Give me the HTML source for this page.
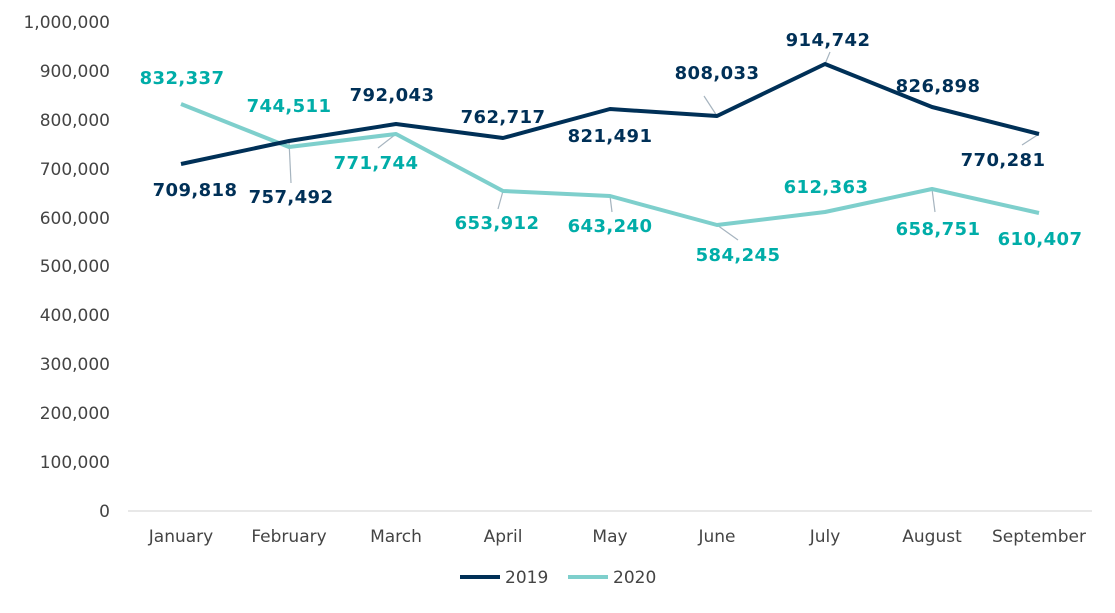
<!DOCTYPE html>
<html><head><meta charset="utf-8"><style>
body{margin:0;background:#fff}
text{font-family:"DejaVu Sans","Liberation Sans",sans-serif;font-size:17px}
.ax{fill:#444}
.b{font-weight:bold;fill:#003057;font-size:18px;letter-spacing:0.4px}
.t{font-weight:bold;fill:#00ADA8;font-size:18px;letter-spacing:0.4px}
</style></head><body>
<svg width="1115" height="608" xmlns="http://www.w3.org/2000/svg">
<g class="ax" text-anchor="end">
<text x="110" y="517">0</text>
<text x="110" y="468">100,000</text>
<text x="110" y="419">200,000</text>
<text x="110" y="370">300,000</text>
<text x="110" y="321">400,000</text>
<text x="110" y="272">500,000</text>
<text x="110" y="224">600,000</text>
<text x="110" y="175">700,000</text>
<text x="110" y="126">800,000</text>
<text x="110" y="77">900,000</text>
<text x="110" y="28">1,000,000</text>
</g>
<line x1="128" y1="511" x2="1092" y2="511" stroke="#d0d0d0" stroke-width="1"/>
<g class="ax" text-anchor="middle">
<text x="181" y="542">January</text><text x="289" y="542">February</text><text x="396" y="542">March</text>
<text x="503" y="542">April</text><text x="610" y="542">May</text><text x="717" y="542">June</text>
<text x="825" y="542">July</text><text x="932" y="542">August</text><text x="1039" y="542">September</text>
</g>
<g stroke="#a6b4bf" stroke-width="1.2">
<line x1="289" y1="141" x2="291" y2="183"/>
<line x1="396" y1="134" x2="378" y2="148"/>
<line x1="503" y1="191" x2="498" y2="209"/>
<line x1="610" y1="196" x2="612" y2="212"/>
<line x1="717" y1="225" x2="738" y2="240"/>
<line x1="717" y1="116" x2="704" y2="96"/>
<line x1="825" y1="64" x2="830" y2="52"/>
<line x1="932" y1="189" x2="935" y2="212"/>
<line x1="1039" y1="134" x2="1022" y2="145"/>
</g>
<polyline fill="none" stroke="#7ecfcc" stroke-width="4" stroke-linejoin="round" points="181,104 289,147 396,134 503,191 610,196 717,225 825,212 932,189 1039,213"/>
<polyline fill="none" stroke="#003057" stroke-width="4" stroke-linejoin="round" points="181,164 289,141 396,124 503,138 610,109 717,116 825,64 932,107 1039,134"/>
<g text-anchor="middle">
<text class="b" x="195" y="196">709,818</text>
<text class="b" x="291" y="203">757,492</text>
<text class="b" x="392" y="101">792,043</text>
<text class="b" x="503" y="123">762,717</text>
<text class="b" x="610" y="142">821,491</text>
<text class="b" x="717" y="79">808,033</text>
<text class="b" x="828" y="46">914,742</text>
<text class="b" x="938" y="92">826,898</text>
<text class="b" x="1003" y="166">770,281</text>
<text class="t" x="182" y="84">832,337</text>
<text class="t" x="289" y="112">744,511</text>
<text class="t" x="376" y="169">771,744</text>
<text class="t" x="497" y="229">653,912</text>
<text class="t" x="610" y="232">643,240</text>
<text class="t" x="738" y="261">584,245</text>
<text class="t" x="826" y="193">612,363</text>
<text class="t" x="938" y="235">658,751</text>
<text class="t" x="1040" y="245">610,407</text>
</g>
<line x1="460" y1="577" x2="500" y2="577" stroke="#003057" stroke-width="4"/>
<text class="ax" x="505" y="583">2019</text>
<line x1="568" y1="577" x2="608" y2="577" stroke="#7ecfcc" stroke-width="4"/>
<text class="ax" x="613" y="583">2020</text>
</svg>
</body></html>
